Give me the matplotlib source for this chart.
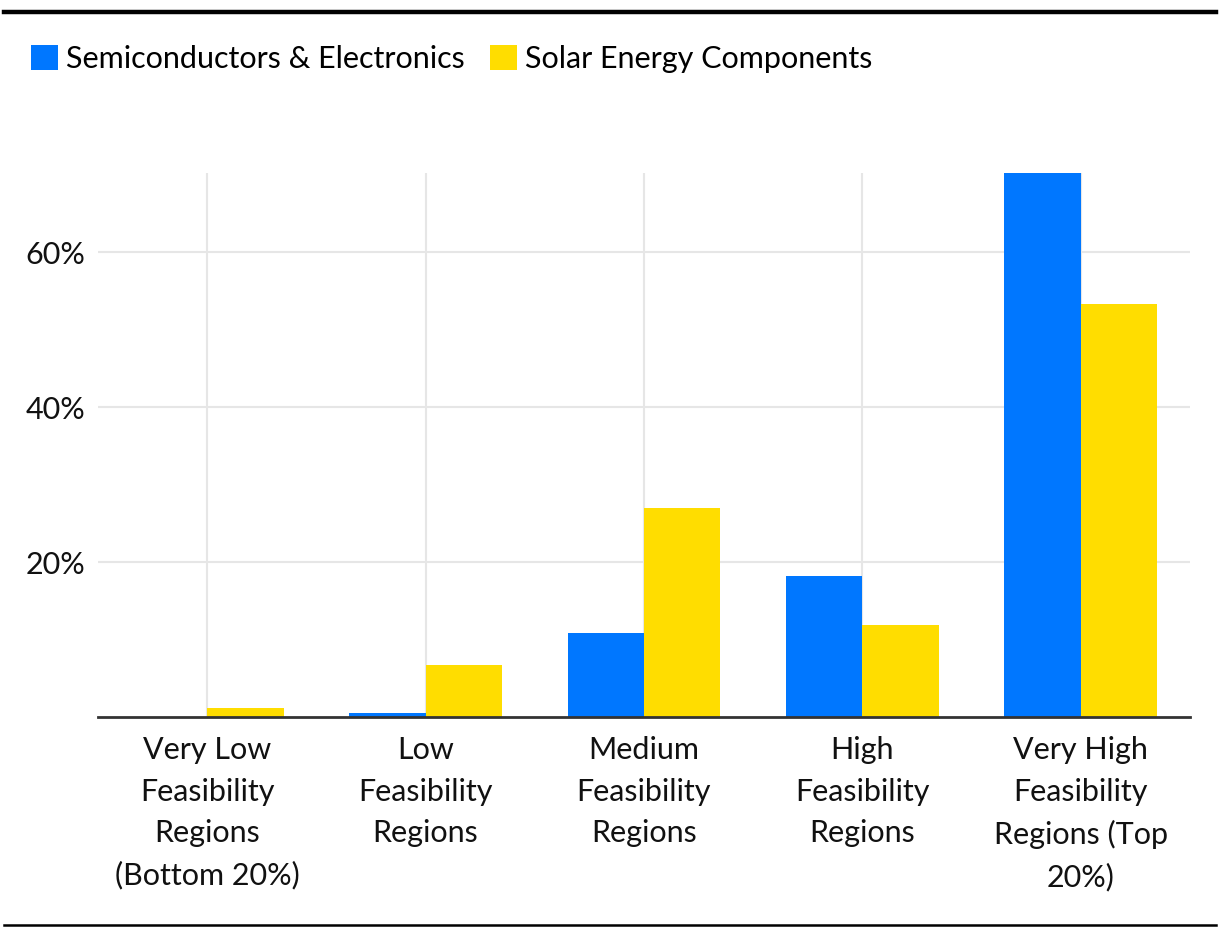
import matplotlib
matplotlib.use("Agg")
import matplotlib.pyplot as plt
from matplotlib.lines import Line2D
from matplotlib.patches import Patch
import numpy as np

# Dados
categories = [
    "Very Low\nFeasibility\nRegions\n(Bottom 20%)",
    "Low\nFeasibility\nRegions",
    "Medium\nFeasibility\nRegions",
    "High\nFeasibility\nRegions",
    "Very High\nFeasibility\nRegions (Top\n20%)",
]
semiconductors = [0.0, 0.5, 10.8, 18.2, 70.2]
solar = [1.1, 6.7, 27.0, 11.9, 53.3]
series_names = ["Semiconductors & Electronics", "Solar Energy Components"]
y_ticks = [20, 40, 60]
y_tick_labels = ["20%", "40%", "60%"]

BLUE = "#0077ff"
YELLOW = "#ffdd00"
FS = 22

plt.rcParams["font.family"] = ["Lato", "DejaVu Sans"]

fig = plt.figure(figsize=(12.2, 9.38), dpi=100)
ax = fig.add_axes([0.0803, 0.2356, 0.8951, 0.58])

x = np.arange(len(categories))
width = 0.35
ax.bar(x - width / 2, semiconductors, width, color=BLUE, zorder=2)
ax.bar(x + width / 2, solar, width, color=YELLOW, zorder=2)

ax.set_xlim(-0.5, len(categories) - 0.5)
ax.set_ylim(0, 70.2)

ax.set_yticks(y_ticks)
ax.set_yticklabels(y_tick_labels, fontsize=FS)
ax.set_xticks(x)
ax.set_xticklabels(categories, fontsize=FS, linespacing=1.58)
ax.tick_params(axis="both", length=0, colors="#111111")
ax.tick_params(axis="x", pad=14)
ax.tick_params(axis="y", pad=9)

ax.grid(True, color="#e6e6e6", linewidth=1.5, zorder=0)
for side in ["top", "right", "left"]:
    ax.spines[side].set_visible(False)
ax.spines["bottom"].set_color("#333333")
ax.spines["bottom"].set_linewidth(2)
ax.spines["bottom"].set_zorder(3)

# Legenda no topo
handles = [Patch(facecolor=BLUE), Patch(facecolor=YELLOW)]
fig.legend(
    handles, series_names,
    loc="center left", bbox_to_anchor=(0.0254, 0.937),
    ncol=2, frameon=False, fontsize=FS,
    borderaxespad=0, borderpad=0,
    handlelength=0.88, handleheight=0.88, handletextpad=0.25, columnspacing=0.85,
)

# Linhas horizontais de moldura
fig.add_artist(Line2D([0.003, 0.997], [0.9875, 0.9875], color="black", linewidth=3.2))
fig.add_artist(Line2D([0.003, 0.997], [0.0135, 0.0135], color="black", linewidth=1.8))

fig.savefig("out.png", dpi=100, facecolor="white")
